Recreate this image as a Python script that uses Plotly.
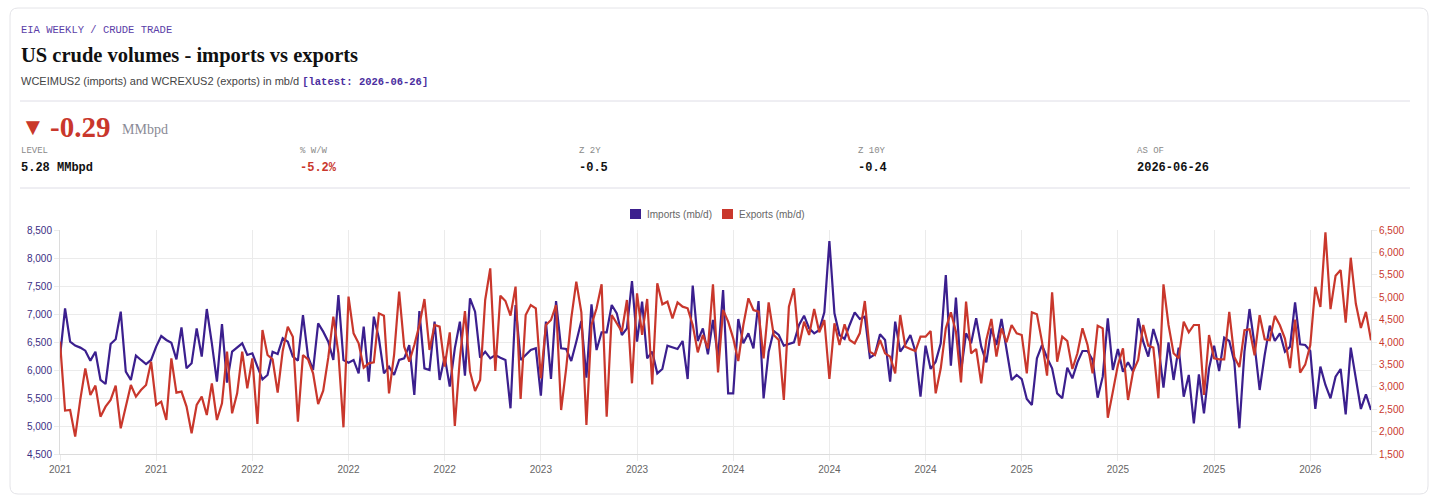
import pandas as pd
import plotly.graph_objects as go

# weekly series, kb/d, ending 2026-06-26
imports_kbd = [
    6238, 7101, 6506, 6435, 6400, 6345, 6167, 6327, 5822, 5750,
    6464, 6548, 7042, 5970, 5822, 6256, 6179, 6107, 6179, 6417,
    6607, 6536, 6488, 6190, 6762, 6030, 6119, 6744, 6238, 7089,
    6476, 5792, 6821, 5774, 6327, 6405, 6476, 6268, 6298, 6060,
    5833, 5911, 6327, 6286, 6566, 6506, 6238, 6167, 6982, 6238,
    6000, 6833, 6685, 6506, 6179, 7339, 6179, 6131, 6179, 5940,
    6774, 5792, 6952, 6566, 5940, 6060, 5911, 6179, 6208, 6446,
    5554, 7054, 6030, 6000, 6863, 5822, 6238, 5702, 6387, 6863,
    5899, 7280, 7042, 6220, 6327, 6208, 6268, 6220, 6179, 5316,
    7161, 6179, 6268, 6357, 6387, 5542, 6863, 5839, 7232, 6387,
    6375, 6161, 6506, 6875, 5863, 7173, 6357, 6673, 6673, 7161,
    7012, 6625, 6744, 7589, 6506, 7220, 6208, 6327, 5940, 6018,
    6435, 6399, 6375, 6518, 5839, 7506, 6518, 6744, 6280, 6893,
    6220, 7429, 5583, 5583, 6911, 6476, 6655, 6387, 7232, 5494,
    6327, 6697, 6625, 6435, 6458, 6494, 6804, 6970, 6744, 6655,
    6714, 7030, 8304, 7012, 6625, 6554, 6804, 7030, 6911, 6952,
    6220, 6280, 6637, 6536, 5792, 6863, 6327, 6458, 6625, 6327,
    5524, 6435, 6018, 6149, 6476, 7696, 6077, 7292, 5970, 6655,
    6476, 6923, 6417, 6137, 6744, 6446, 6911, 6327, 5822, 5911,
    5839, 5482, 5375, 6208, 6446, 6220, 6030, 5583, 5494, 6042,
    5851, 6137, 6339, 6339, 6179, 5506, 5881, 6923, 6000, 6375,
    5970, 6137, 5970, 6923, 6506, 6238, 6732, 6435, 5685, 6494,
    5822, 6399, 5524, 5911, 5048, 5923, 5226, 6030, 6435, 5982,
    6577, 6518, 6149, 4959, 6327, 7089, 6446, 5643, 6268, 6792,
    6518, 6655, 6327, 6417, 7208, 6458, 6446, 6339, 5304, 6060,
    5732, 5494, 5881, 6018, 5208, 6399, 5881, 5304, 5566, 5286,
]
exports_kbd = [
    4008, 2468, 2482, 1887, 2706, 3412, 2817, 3026, 2334, 2557,
    2706, 3026, 2073, 2557, 3040, 2780, 2929, 3040, 3561, 2594,
    2668, 2259, 3636, 2869, 2892, 2557, 1962, 2594, 2780, 2371,
    3078, 2259, 2631, 3784, 2408, 2854, 3784, 2966, 3636, 2170,
    4268, 3710, 3613, 2869, 3800, 4342, 4119, 2222, 3710, 3613,
    3300, 2616, 2914, 3650, 4566, 3747, 2096, 5012, 4194, 3970,
    3427, 3524, 3546, 4640, 4588, 2854, 3710, 5124, 3896, 3561,
    3933, 4380, 4960, 3822, 4380, 4342, 3450, 4216, 2125, 3636,
    4692, 3338, 2907, 3152, 4938, 5644, 3353, 5034, 4915, 4588,
    5235, 2728, 4603, 4826, 4752, 3189, 4380, 4491, 4826, 2482,
    3412, 4528, 5347, 4662, 2148, 4380, 4752, 5287, 2334, 4603,
    4417, 4231, 4938, 3078, 5086, 4157, 4960, 3055, 5310, 4841,
    4900, 4528, 4886, 4789, 4752, 4380, 3769, 4157, 3859, 5287,
    3323, 4714, 4454, 4082, 3576, 4380, 4975, 4714, 4677, 3636,
    4886, 4157, 4045, 2706, 4789, 5198, 3918, 4454, 4157, 4737,
    4216, 4491, 3174, 4417, 3933, 4394, 4045, 3970, 4194, 4915,
    3784, 3710, 4045, 3747, 3673, 3301, 4603, 3896, 3844, 3799,
    4119, 4119, 4246, 2854, 3412, 4305, 4662, 4231, 3100, 4900,
    3747, 3844, 3078, 4045, 4514, 3673, 4305, 3993, 4380, 4194,
    4157, 3301, 4662, 4618, 4008, 3249, 5109, 3561, 4119, 4022,
    3398, 3747, 4305, 3933, 3301, 4365, 4305, 2311, 2892, 3487,
    3859, 2706, 3338, 3598, 4380, 3918, 3874, 2743, 5287, 4380,
    3747, 3636, 4454, 4216, 4380, 4380, 2817, 4157, 3636, 3613,
    3613, 4672, 3665, 3441, 4262, 4284, 3702, 4598, 4061, 4038,
    4583, 4374, 4076, 3419, 4500, 3315, 3494, 3926, 5232, 4784,
    6448, 4732, 5478, 5605, 4434, 5881, 4859, 4314, 4672, 4038,
]
weeks = pd.date_range(end="2026-06-26", periods=len(imports_kbd), freq="7D")
tick_weeks = weeks[::19]
tick_labels = [str(d.year) for d in tick_weeks]

kpi_labels = ["LEVEL", "% W/W", "Z 2Y", "Z 10Y", "AS OF"]
kpi_values = ["5.28 MMbpd", "-5.2%", "-0.5", "-0.4", "2026-06-26"]

PURPLE = "#3b1f8e"
RED = "#c9372c"
MONO = "Liberation Mono"
SANS = "Liberation Sans"
SERIF = "Liberation Serif"

W, H = 1438, 504
PL, PR, PT, PB = 60, 1371, 230, 454


def fx(x):
    return (x - PL) / (PR - PL)


def fy(y):
    return (PB - y) / (PB - PT)


fig = go.Figure()
fig.add_trace(go.Scatter(x=weeks, y=imports_kbd, name="Imports (mb/d)", mode="lines",
                         line=dict(color=PURPLE, width=2.2)))
fig.add_trace(go.Scatter(x=weeks, y=exports_kbd, name="Exports (mb/d)", mode="lines",
                         line=dict(color=RED, width=2.2), yaxis="y2"))

# card outline with rounded corners
r = 8
x0, x1, y0, y1 = 10, 1428, 8, 494
rx = r / (PR - PL)
ry = r / (PB - PT)
card = (f"M {fx(x0)+rx},{fy(y0)} L {fx(x1)-rx},{fy(y0)} Q {fx(x1)},{fy(y0)} {fx(x1)},{fy(y0)-ry} "
        f"L {fx(x1)},{fy(y1)+ry} Q {fx(x1)},{fy(y1)} {fx(x1)-rx},{fy(y1)} "
        f"L {fx(x0)+rx},{fy(y1)} Q {fx(x0)},{fy(y1)} {fx(x0)},{fy(y1)+ry} "
        f"L {fx(x0)},{fy(y0)-ry} Q {fx(x0)},{fy(y0)} {fx(x0)+rx},{fy(y0)} Z")
shapes = [
    dict(type="path", path=card, xref="paper", yref="paper",
         line=dict(color="#e4e4e8", width=1), layer="below"),
    dict(type="line", xref="paper", yref="paper", x0=fx(20), x1=fx(1410), y0=fy(101), y1=fy(101),
         line=dict(color="#dedde6", width=1)),
    dict(type="line", xref="paper", yref="paper", x0=fx(20), x1=fx(1410), y0=fy(188), y1=fy(188),
         line=dict(color="#dedde6", width=1)),
    # legend boxes
    dict(type="rect", xref="paper", yref="paper", x0=fx(630), x1=fx(641), y0=fy(219), y1=fy(209),
         fillcolor=PURPLE, line=dict(width=0)),
    dict(type="rect", xref="paper", yref="paper", x0=fx(722), x1=fx(733), y0=fy(219), y1=fy(209),
         fillcolor=RED, line=dict(width=0)),
]


def note(x, y, text, size, color, family=SANS, anchor="left"):
    return dict(x=fx(x), y=fy(y), xref="paper", yref="paper", text=text, showarrow=False,
                xanchor=anchor, yanchor="middle", font=dict(size=size, color=color, family=family))


annotations = [
    note(19, 30, "EIA WEEKLY / CRUDE TRADE", 10.5, "#5b3ea8", MONO),
    note(19, 55, "<b>US crude volumes - imports vs exports</b>", 20.5, "#111111", SERIF),
    note(19, 81, "WCEIMUS2 (imports) and WCREXUS2 (exports) in mb/d "
         f"<span style='font-family:{MONO};font-size:10.5px;color:#4b2fa0'><b>[latest: 2026-06-26]</b></span>",
         11, "#444444", SANS),
    note(19, 126, "▼", 24, RED, SANS),
    note(48, 127, "<b>-0.29</b>", 29, RED, SERIF),
    note(120, 129, "MMbpd", 14, "#8a8a96", SERIF),
    note(645, 214, "Imports (mb/d)", 10, "#666666"),
    note(737, 214, "Exports (mb/d)", 10, "#666666"),
]
for i, (lab, val) in enumerate(zip(kpi_labels, kpi_values)):
    x = 19 + i * 279
    annotations.append(note(x, 151, lab, 9, "#8a8a8a", MONO))
    annotations.append(note(x, 168, f"<b>{val}</b>", 12,
                            RED if val.startswith("-5") else "#111111", MONO))

grid = "#ebebeb"
fig.update_layout(
    width=W, height=H,
    margin=dict(l=PL, r=W - PR, t=PT, b=H - PB),
    paper_bgcolor="white", plot_bgcolor="white",
    showlegend=False,
    font=dict(family=SANS, size=10, color="#666666"),
    xaxis=dict(type="date", range=[weeks[0], weeks[-1]], tickvals=tick_weeks, ticktext=tick_labels,
               showgrid=True, gridcolor=grid, showline=True, linecolor="#dcdcdc",
               ticks="outside", ticklen=6, tickcolor=grid, tickfont=dict(size=10, color="#666666"),
               zeroline=False),
    yaxis=dict(range=[4500, 8500], dtick=500, tickformat=",", showgrid=True, gridcolor=grid,
               showline=True, linecolor="#dcdcdc", ticks="outside", ticklen=5, tickcolor=grid,
               tickfont=dict(size=10, color="#3b2e83"), zeroline=False),
    yaxis2=dict(range=[1500, 6500], dtick=500, tickformat=",", overlaying="y", side="right",
                showgrid=False, showline=True, linecolor="#dcdcdc", ticks="outside", ticklen=5,
                tickcolor=grid, tickfont=dict(size=10, color=RED), zeroline=False),
    shapes=shapes,
    annotations=annotations,
)

fig.write_html("out.html", config={"displayModeBar": False},
               post_script="document.body.style.margin='0';document.body.style.overflow='hidden';")
